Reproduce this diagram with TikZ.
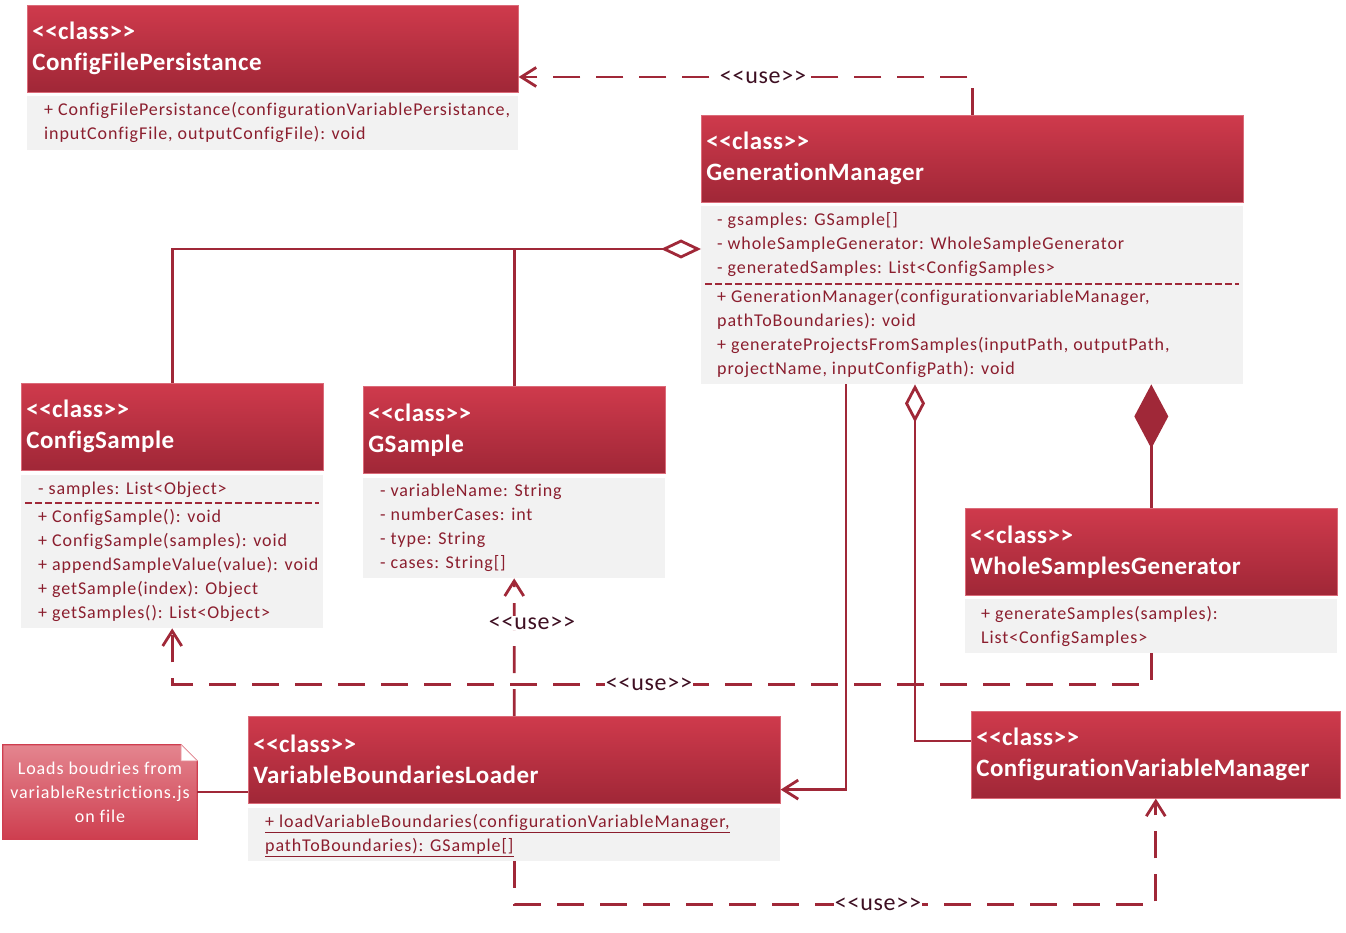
\documentclass[tikz,border=0pt]{standalone}
\usepackage{fontspec}
\setmainfont{Carlito}[Ligatures={TeXOff,NoCommon}]
\newfontfamily\membfont{Carlito}[Ligatures={TeXOff,NoCommon},LetterSpace=5.0]
\newfontfamily\hdrfont{Carlito}[Ligatures={TeXOff,NoCommon},LetterSpace=2.0,BoldFont=Carlito Bold]
\newfontfamily\lblfont{Carlito}[Ligatures={TeXOff,NoCommon},LetterSpace=3.0]
\usetikzlibrary{arrows.meta,calc}

\definecolor{hdrTop}{HTML}{CF3A4C}
\definecolor{hdrBot}{HTML}{A02737}
\definecolor{wire}{HTML}{A02838}
\definecolor{membtext}{HTML}{8B1E2E}
\definecolor{bodyfill}{HTML}{F2F2F2}
\definecolor{lbltext}{HTML}{3E0F22}
\definecolor{noteTop}{HTML}{E4858F}
\definecolor{noteBot}{HTML}{CE3E4F}

% one member line per node, 24pt apart
\newcommand\memberlines[4]{%
  \foreach \txt [count=\i] in {#4} {\node[memb] (#1\i) at ({#2},{#3+24*(\i-1)}) {\txt};}}

\begin{document}
\begin{tikzpicture}[x=1pt,y=-1pt,
  hdr/.style={anchor=north west, minimum height=87pt, inner xsep=5pt, inner ysep=0pt,
    top color=hdrTop, bottom color=hdrBot, draw=hdrTop!75!white, line width=0.6pt,
    text=white, align=left, font=\hdrfont\bfseries\fontsize{25}{31}\selectfont},
  body/.style={anchor=north west, fill=bodyfill, inner sep=0pt},
  memb/.style={anchor=base west, inner sep=0pt, text=membtext, font=\membfont\fontsize{18}{24}\selectfont},
  sep/.style={draw=wire, line width=2.6pt, dash pattern=on 7pt off 3pt},
  wireline/.style={draw=wire, line width=2.8pt},
  usewire/.style={wireline, dash pattern=on 27pt off 16pt},
  barb/.style={-{Straight Barb[length=15pt,width=19pt,line width=2.8pt]}},
  uselbl/.style={fill=white, inner sep=1pt, text=lbltext, font=\lblfont\fontsize{24}{28}\selectfont},
  notetext/.style={text=white, align=center, font=\membfont\fontsize{18}{24}\selectfont}
]
\useasboundingbox (0,0) rectangle (1346,933);

% ---------- ConfigFilePersistance ----------
\node[hdr, minimum width=491pt, text width=481pt] (cfpH) at (27,5) {<<class>>\\ConfigFilePersistance};
\node[body, minimum width=491pt, minimum height=54pt] (cfpB) at (27,96) {};
\memberlines{cfpM}{44}{115.5}{{+ ConfigFilePersistance(configurationVariablePersistance,},{inputConfigFile, outputConfigFile): void}}

% ---------- GenerationManager ----------
\node[hdr, minimum width=542pt, text width=532pt] (gmH) at (701,115) {<<class>>\\GenerationManager};
\node[body, minimum width=542pt, minimum height=178pt] (gmB) at (701,206) {};
\memberlines{gmA}{717}{225.5}{{- gsamples: GSample[]},{- wholeSampleGenerator: WholeSampleGenerator},{- generatedSamples: List<ConfigSamples>}}
\draw[sep] ($(gmB.north west)+(4,78)$) -- ($(gmB.north east)+(-4,78)$);
\memberlines{gmO}{717}{302.5}{{+ GenerationManager(configurationvariableManager,},{pathToBoundaries): void},{+ generateProjectsFromSamples(inputPath, outputPath,},{projectName, inputConfigPath): void}}

% ---------- ConfigSample ----------
\node[hdr, minimum width=302pt, text width=292pt] (csH) at (21,383) {<<class>>\\ConfigSample};
\node[body, minimum width=302pt, minimum height=153pt] (csB) at (21,475) {};
\memberlines{csA}{38}{494.5}{{- samples: List<Object>}}
\draw[sep] ($(csB.north west)+(4,28)$) -- ($(csB.north east)+(-4,28)$);
\memberlines{csO}{38}{522.5}{{+ ConfigSample(): void},{+ ConfigSample(samples): void},{+ appendSampleValue(value): void},{+ getSample(index): Object},{+ getSamples(): List<Object>}}

% ---------- GSample ----------
\node[hdr, minimum width=302pt, text width=292pt] (gsH) at (363,386) {<<class>>\\GSample};
\node[body, minimum width=302pt, minimum height=100pt] (gsB) at (363,478) {};
\memberlines{gsA}{380}{496.5}{{- variableName: String},{- numberCases: int},{- type: String},{- cases: String[]}}

% ---------- WholeSamplesGenerator ----------
\node[hdr, minimum width=372pt, text width=362pt] (wsgH) at (965,508) {<<class>>\\WholeSamplesGenerator};
\node[body, minimum width=372pt, minimum height=54pt] (wsgB) at (965,599) {};
\memberlines{wsgO}{981}{619.5}{{+ generateSamples(samples):},{List<ConfigSamples>}}

% ---------- VariableBoundariesLoader ----------
\node[hdr, minimum width=532pt, text width=522pt] (vblH) at (248,716) {<<class>>\\VariableBoundariesLoader};
\node[body, minimum width=532pt, minimum height=53pt] (vblB) at (248,808) {};
\memberlines{vblO}{265}{827.5}{{\underline{+ loadVariableBoundaries(configurationVariableManager,}},{\underline{pathToBoundaries): GSample[]}}}

% ---------- ConfigurationVariableManager ----------
\node[hdr, minimum width=369pt, text width=359pt] (cvmH) at (971,711) {<<class>>\\ConfigurationVariableManager};

% ---------- note with folded corner ----------
\node[minimum width=194pt, minimum height=94pt, inner sep=0pt] (note) at (100,792) {};
\shade[top color=noteTop, bottom color=noteBot, draw=noteBot, line width=1.2pt]
  (note.south west) -- (note.north west) -- ($(note.north east)+(-16,0)$)
  -- ($(note.north east)+(0,16)$) -- (note.south east) -- cycle;
\fill[white, draw=noteTop!60!white, line width=0.8pt]
  ($(note.north east)+(-16,0)$) -- ($(note.north east)+(-16,16)$) -- ($(note.north east)+(0,16)$) -- cycle;
\node[notetext] (noteT) at (note.center) {Loads boudries from\\variableRestrictions.js\\on file};

% ---------- connectors ----------
% GenerationManager uses ConfigFilePersistance
\draw[usewire, barb] (gmH.north) |- ($(cfpH.north east)+(0,72)$);
\node[uselbl] (useA) at (763,77) {<<use>>};

% aggregation of ConfigSample and GSample
\coordinate (aggJoin) at (gsH.north |- 0,249);
\draw[wireline, {Diamond[open,length=40pt,width=19pt,line width=2.8pt]}-] ($(gmB.north west)+(0,43)$) -- (aggJoin) -| (csH.north);
\draw[wireline] (aggJoin) -- (gsH.north);

% GenerationManager -> VariableBoundariesLoader
\draw[wireline, barb] ($(gmB.south west)+(145,0)$) |- ($(vblH.south east)+(0,-14)$);

% aggregation of ConfigurationVariableManager
\draw[wireline, {Diamond[open,length=38pt,width=20pt,line width=2.8pt]}-] ($(gmB.south west)+(214,0)$) |- ($(cvmH.north west)+(0,30)$);

% composition of WholeSamplesGenerator
\draw[wireline, {Diamond[length=64pt,width=34pt]}-] (wsgH.north |- gmB.south) -- (wsgH.north);

% WholeSamplesGenerator uses ConfigSample
\draw[usewire, barb] (wsgB.south) |- ($(csB.south)+(0,56)$) -- (csB.south);
\node[uselbl] (useB) at (649,684) {<<use>>};

% VariableBoundariesLoader uses GSample
\draw[usewire, barb] (vblH.north) -- (gsB.south);
\node[uselbl] (useC) at (532,623) {<<use>>};

% VariableBoundariesLoader uses ConfigurationVariableManager
\draw[usewire, barb] (vblB.south) |- ($(cvmH.south)+(0,106)$) -- (cvmH.south);
\node[uselbl] (useD) at (878,904) {<<use>>};

% note attachment
\draw[wireline] (note.east) -- (vblH.west |- note.east);
\end{tikzpicture}
\end{document}
